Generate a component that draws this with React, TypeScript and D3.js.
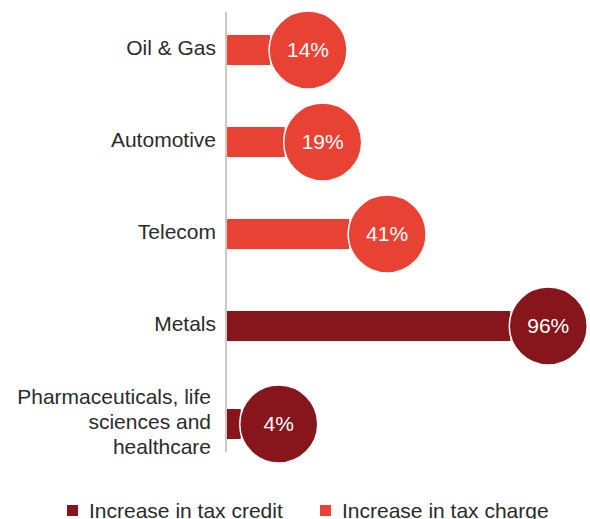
import React from "react";
import * as d3 from "d3";

const categories = ["Oil & Gas", "Automotive", "Telecom", "Metals", "Pharmaceuticals, life sciences and healthcare"];
const labelLines = [["Oil & Gas"], ["Automotive"], ["Telecom"], ["Metals"], ["Pharmaceuticals, life", "sciences and", "healthcare"]];
const values = [14, 19, 41, 96, 4];
const seriesOf = ["charge", "charge", "charge", "credit", "credit"];
const legendItems = [
  { key: "credit", label: "Increase in tax credit" },
  { key: "charge", label: "Increase in tax charge" },
];

const COLORS: Record<string, string> = { credit: "#86161b", charge: "#e84234" };
const FONT = "'Liberation Sans', Arial, Helvetica, sans-serif";

export default function App() {
  const W = 590, H = 519;
  const axisX = 226;
  const x = d3.scaleLinear().domain([0, 100]).range([axisX, 519]);
  const y = d3.scalePoint<string>().domain(categories).range([50, 418]);
  const r = 39;
  const barH = 30;
  const fs = 21;

  return (
    <svg width={W} height={H} style={{ position: "absolute", left: 0, top: 0, fontFamily: FONT }}>
      <line x1={axisX} x2={axisX} y1={12} y2={452} stroke="#aaa39e" strokeWidth={1.2} />
      {categories.map((c, i) => {
        const lines = labelLines[i];
        const cy = y(c)! + (lines.length - 1) * 3;
        const v = values[i];
        const col = COLORS[seriesOf[i]];
        const cx = x(v) + r + 2;
        const lh = 25;
        const lx = lines.length > 1 ? 211 : 216;
        return (
          <g key={c}>
            <rect x={axisX + 1} y={cy - barH / 2} width={x(v) + 2 - axisX} height={barH} fill={col} />
            <circle cx={cx} cy={cy} r={r} fill={col} stroke="#fff" strokeWidth={1.5} />
            <text x={cx} y={cy} dy="0.35em" textAnchor="middle" fill="#fff" fontSize={fs}>
              {v}%
            </text>
            {lines.map((ln, j) => (
              <text
                key={j}
                x={lx}
                y={cy + (j - (lines.length - 1) / 2) * lh - 2}
                dy="0.35em"
                textAnchor="end"
                fill="#2b2b2b"
                fontSize={fs}
              >
                {ln}
              </text>
            ))}
          </g>
        );
      })}
      {legendItems.map((it, i) => {
        const lx = i === 0 ? 67 : 320;
        return (
          <g key={it.key}>
            <rect x={lx} y={505} width={11} height={11} fill={COLORS[it.key]} />
            <text x={lx + 22} y={518} fill="#2b2b2b" fontSize={fs}>
              {it.label}
            </text>
          </g>
        );
      })}
    </svg>
  );
}
